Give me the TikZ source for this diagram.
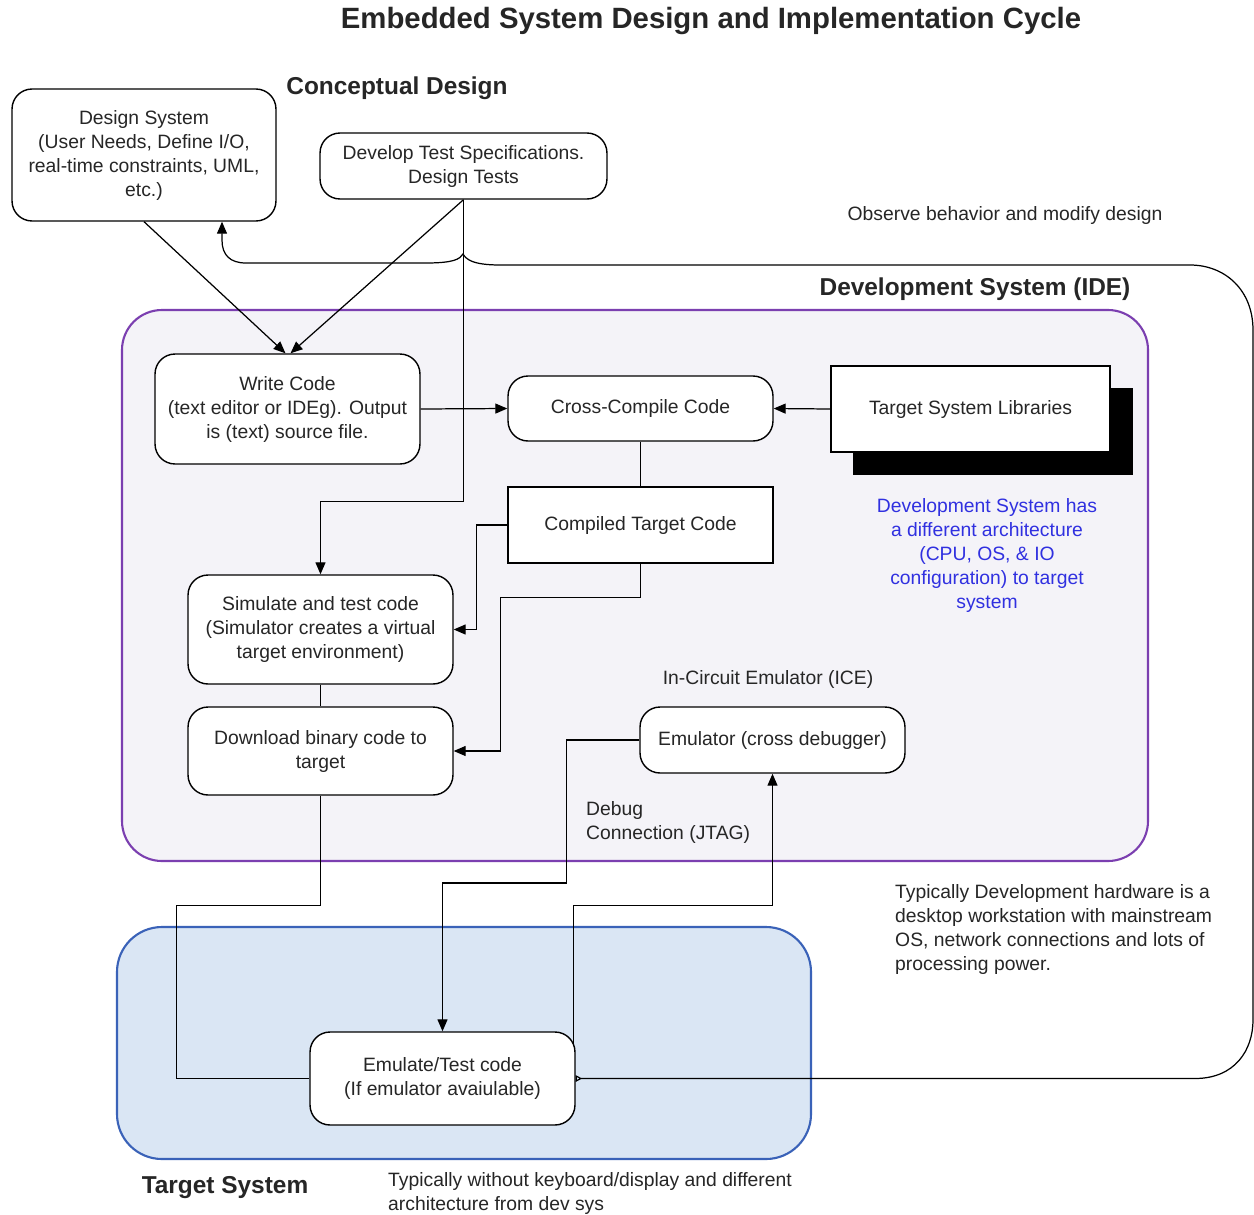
\documentclass[tikz,border=0pt]{standalone}
\usepackage{fontspec}
\setmainfont{Liberation Sans}
\usetikzlibrary{arrows.meta,calc}
\definecolor{txt}{HTML}{262626}
\definecolor{devline}{HTML}{7B3FB0}
\definecolor{devfill}{HTML}{F4F3F8}
\definecolor{tgtline}{HTML}{3A62B8}
\definecolor{tgtfill}{HTML}{DAE6F4}
\definecolor{bluetxt}{HTML}{3030E0}
\begin{document}
\begin{tikzpicture}[x=0.02cm,y=-0.02cm,
  bodyfont/.style={font=\fontsize{11}{13.66}\selectfont, text=txt},
  rbox/.style={draw=black, line width=0.8pt, fill=white, rounded corners=0.4cm, align=center, inner sep=0pt, bodyfont},
  sbox/.style={draw=black, line width=0.8pt, fill=white, align=center, inner sep=0pt, bodyfont},
  conn/.style={draw=black, line width=0.7pt},
  arr/.style={conn, -{Triangle[length=2.4mm,width=2mm]}},
  heading/.style={font=\fontsize{13.9}{16}\selectfont\bfseries, text=txt},
  note/.style={bodyfont, align=left, anchor=north west}
]
\useasboundingbox (0,0) rectangle (1254,1214);
\fill[white] (0,0) rectangle (1254,1214);

% regions
\draw[devline, line width=1.2pt, fill=devfill, rounded corners=0.8cm] (122,310) rectangle (1148,861);
\draw[tgtline, line width=1.2pt, fill=tgtfill, rounded corners=0.9cm] (117,927) rectangle (811,1159);

% titles
\node[font=\fontsize{16.7}{19}\selectfont\bfseries, text=txt] (title) at (711,21) {Embedded System Design and Implementation Cycle};
\node[heading] (hcd) at (397,88) {Conceptual Design};
\node[heading] (hdev) at (975,289) {Development System (IDE)};
\node[heading] (htgt) at (225,1188) {Target System};

% boxes
\node[rbox, minimum width=5.28cm, minimum height=2.64cm] (ds) at (144,155) {Design System\\(User Needs, Define I/O,\\real-time constraints, UML,\\etc.)};
\node[rbox, minimum width=5.74cm, minimum height=1.32cm] (dt) at (463.5,166) {Develop Test Specifications.\\Design Tests};
\node[rbox, minimum width=5.3cm, minimum height=2.2cm] (wc) at (287.5,409) {Write Code\\(text editor or IDEg). Output\\is (text) source file.};
\node[rbox, minimum width=5.3cm, minimum height=1.3cm] (cc) at (640.5,408.5) {Cross-Compile Code};
\fill[black] (853,388) rectangle (1133,475);
\node[sbox, minimum width=5.58cm, minimum height=1.72cm] (tsl) at (970.5,409) {Target System Libraries};
\node[sbox, minimum width=5.3cm, minimum height=1.52cm] (ctc) at (640.5,525) {Compiled Target Code};
\node[rbox, minimum width=5.3cm, minimum height=2.18cm] (sim) at (320.5,629.5) {Simulate and test code\\(Simulator creates a virtual\\target environment)};
\node[rbox, minimum width=5.3cm, minimum height=1.76cm] (dl) at (320.5,751) {Download binary code to\\target};
\node[rbox, minimum width=5.3cm, minimum height=1.32cm] (emu) at (772.5,740) {Emulator (cross debugger)};
\node[rbox, minimum width=5.3cm, minimum height=1.86cm] (et) at (442.5,1078.5) {Emulate/Test code\\(If emulator avaiulable)};

% texts
\node[bodyfont] (obs) at (1005,215) {Observe behavior and modify design};
\node[bodyfont, align=center, text=bluetxt] (arch) at (987,555) {Development System has\\a different architecture\\(CPU, OS, \& IO\\configuration) to target\\system};
\node[bodyfont] (ice) at (768,679) {In-Circuit Emulator (ICE)};
\node[note] (dbg) at (580,795) {Debug\\Connection (JTAG)};
\node[note] (hw) at (889,878) {Typically Development hardware is a\\desktop workstation with mainstream\\OS, network connections and lots of\\processing power.};
\node[note] (tnote) at (382,1166) {Typically without keyboard/display and different\\architecture from dev sys};

% connectors
\draw[arr] (ds.south) -- ($(wc.north)+(-2,0)$);
\draw[arr] (dt.south) -- ($(wc.north)+(3,0)$);
\draw[arr] (dt.south) -- ++(0,302) -| (sim.north);
\draw[arr] (wc.east) -- (cc.west);
\draw[arr] (tsl.west) -- (cc.east);
\draw[conn] (cc.south) -- (ctc.north);
\draw[arr] (ctc.west) -- ++(-31,0) |- (sim.east);
\draw[arr] (ctc.south) -- ++(0,34) -| ($(dl.east)+(47,0)$) -- (dl.east);
\draw[conn] (sim.south) -- (dl.north);
\draw[conn] (dl.south) -- ++(0,110) -| ($(et.west)+(-133,0)$) -- (et.west);
\draw[arr] (emu.west) -- ++(-73,0) -- ++(0,143) -| (et.north);
\draw[arr] ($(et.east)+(-2,-33)$) -- ++(0,-140) -| (emu.south);

% feedback loop
\coordinate (fb) at ($(ds.south)+(78,0)$);
\draw[conn, {Triangle[open,reversed,length=1.3mm,width=1.3mm]}-{Triangle[length=2.4mm,width=2mm]}]
  (et.east) -- (1195,1078.5)
  .. controls (1235,1078.5) and (1253,1050) .. (1253,1020)
  -- (1253,330)
  .. controls (1253,290) and (1225,265) .. (1190,265)
  -- (500,265)
  .. controls (472,265) and (466,259) .. (463,254)
  .. controls (460,259) and (454,263) .. (426,263)
  -- (246,263)
  .. controls (230,263) and (222,255) .. (222,240)
  -- (fb);
\end{tikzpicture}
\end{document}
